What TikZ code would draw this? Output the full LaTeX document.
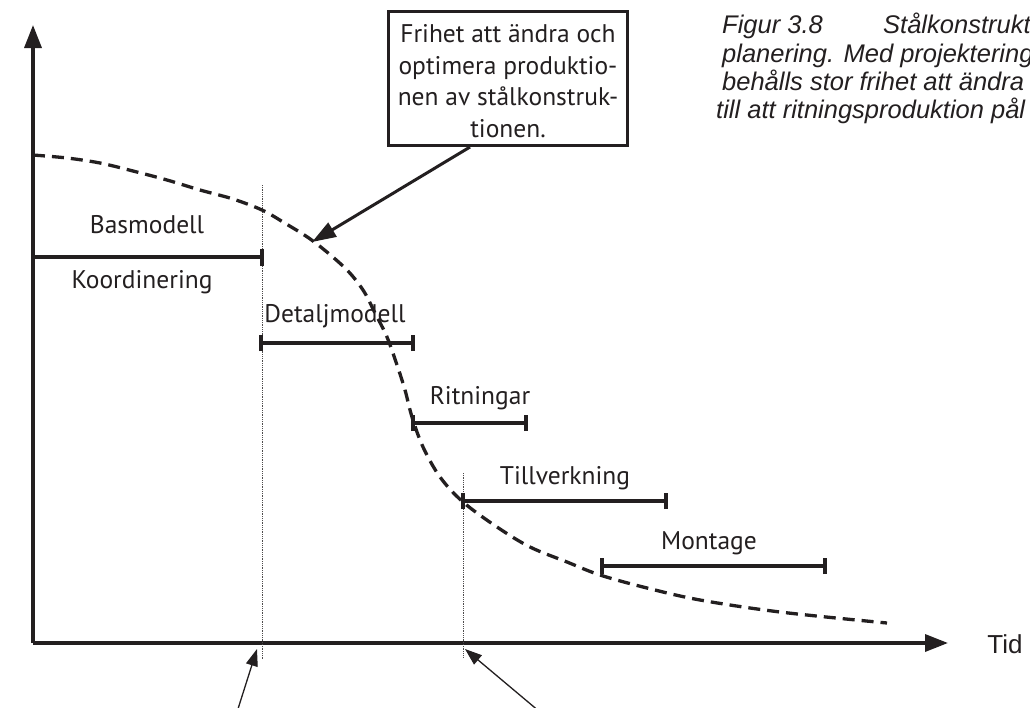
\documentclass[tikz,border=0pt]{standalone}
\usepackage{fontspec}
\setmainfont{PT Sans}
\newfontfamily\capfont{Liberation Sans}
\usetikzlibrary{arrows.meta}
\definecolor{ink}{RGB}{35,31,32}
\begin{document}
\begin{tikzpicture}[x=1pt,y=-1pt,
  axis/.style={draw=ink,line width=3.4pt,-{Triangle[length=23pt,width=17pt]}},
  bar/.style={draw=ink,line width=4pt},
  tickmark/.style={draw=ink,line width=4.5pt},
  guide/.style={draw=ink!80,line width=0.8pt,densely dotted},
  curve/.style={draw=ink,line width=3.3pt,dash pattern=on 12pt off 7pt},
  lbl/.style={text=ink,font=\fontsize{25.5}{30}\selectfont,anchor=base,inner sep=0pt},
  captext/.style={text=ink,font=\capfont\itshape\fontsize{25.5}{30}\selectfont,anchor=base west,inner sep=0pt},
  ptr/.style={draw=ink,line width=1.3pt,-{Triangle[length=17pt,width=12pt]}},
  callout/.style={draw=ink,line width=3pt,-{Triangle[length=24pt,width=16pt]}},
]
\useasboundingbox (0,0) rectangle (1030,707);
\fill[white] (0,0) rectangle (1030,707);

% axes
\coordinate (O) at (33,643);
\coordinate (ytop) at (33,25);
\coordinate (xend) at (948,643);
\draw[axis] (O) -- (ytop);
\draw[axis] (O) -- (xend);
\node[text=ink,font=\capfont\fontsize{26}{30}\selectfont,anchor=base,inner sep=0pt] (tid) at (1005,653) {Tid};

% guides
\coordinate (g1t) at (262,185); \coordinate (g1b) at (262,660);
\coordinate (g2t) at (463,473); \coordinate (g2b) at (463,657);
\draw[guide] (g1t) -- (g1b);
\draw[guide] (g2t) -- (g2b);

% dashed curve
\draw[curve] plot[smooth,tension=0.55] coordinates {
 (33,155) (67,158) (100,163) (133,171) (167,180) (200,190) (233,199) (262,210)
 (283,222) (313,241) (345,268) (363,290) (375,313) (387,337) (397,365) (405,390)
 (412,417) (423,447) (440,477) (463,502) (497,527) (530,547) (567,562) (600,575)
 (647,588) (700,600) (780,612) (887,623)};

% bars
\coordinate (b1a) at (33,257);  \coordinate (b1b) at (262,257);
\coordinate (b2a) at (261,343); \coordinate (b2b) at (413,343);
\coordinate (b3a) at (413,423); \coordinate (b3b) at (526,423);
\coordinate (b4a) at (463,501); \coordinate (b4b) at (666,501);
\coordinate (b5a) at (602,566); \coordinate (b5b) at (825,566);
\draw[bar] (b1a) -- (b1b);
\draw[tickmark] ([yshift=-8.5pt]b1b) -- ([yshift=8.5pt]b1b);
\foreach \a/\b in {b2a/b2b,b3a/b3b,b4a/b4b,b5a/b5b}{
  \draw[bar] (\a) -- (\b);
  \draw[tickmark] ([yshift=-8pt]\a) -- ([yshift=8pt]\a);
  \draw[tickmark] ([yshift=-8pt]\b) -- ([yshift=8pt]\b);
}

% labels
\node[lbl] (bas) at (147,233) {Basmodell};
\node[lbl] (koord) at (142,288) {Koordinering};
\node[lbl] (detalj) at (335,322) {Detaljmodell};
\node[lbl] (ritn) at (480,404) {Ritningar};
\node[lbl] (tillv) at (565,484) {Tillverkning};
\node[lbl] (mont) at (709,549) {Montage};

% callout box
\node[draw=ink,line width=3pt,minimum width=239pt,minimum height=134pt,inner sep=0pt] (box) at (508,78.5) {};
\node[text=ink,align=center,inner sep=0pt,font=\fontsize{25.5}{31.5}\selectfont] (boxtext) at (508,81)
  {Frihet att ändra och\\optimera produktio-\\nen av stålkonstruk-\\tionen.};
\coordinate (c1) at (312,242);
\draw[callout] ([xshift=-38pt]box.south) -- (c1);

% bottom pointers
\coordinate (p1) at (237,712); \coordinate (t1) at (257,649);
\coordinate (p2) at (540,712); \coordinate (t2) at (465,649);
\draw[ptr] (p1) -- (t1);
\draw[ptr] (p2) -- (t2);

% caption (clipped at the right edge, as in the original)
\begin{scope}
\clip (0,0) rectangle (1030,707);
\node[captext] (fig) at (722,33) {Figur 3.8};
\node[captext] (figt) at (883,33) {Stålkonstrukt};
\node[captext] (cl2) at (722,62) {planering. Med projektering};
\node[captext] (cl3) at (722,90) {behålls stor frihet att ändra};
\node[captext] (cl4) at (716,118) {till att ritningsproduktion pål};
\end{scope}
\end{tikzpicture}
\end{document}
